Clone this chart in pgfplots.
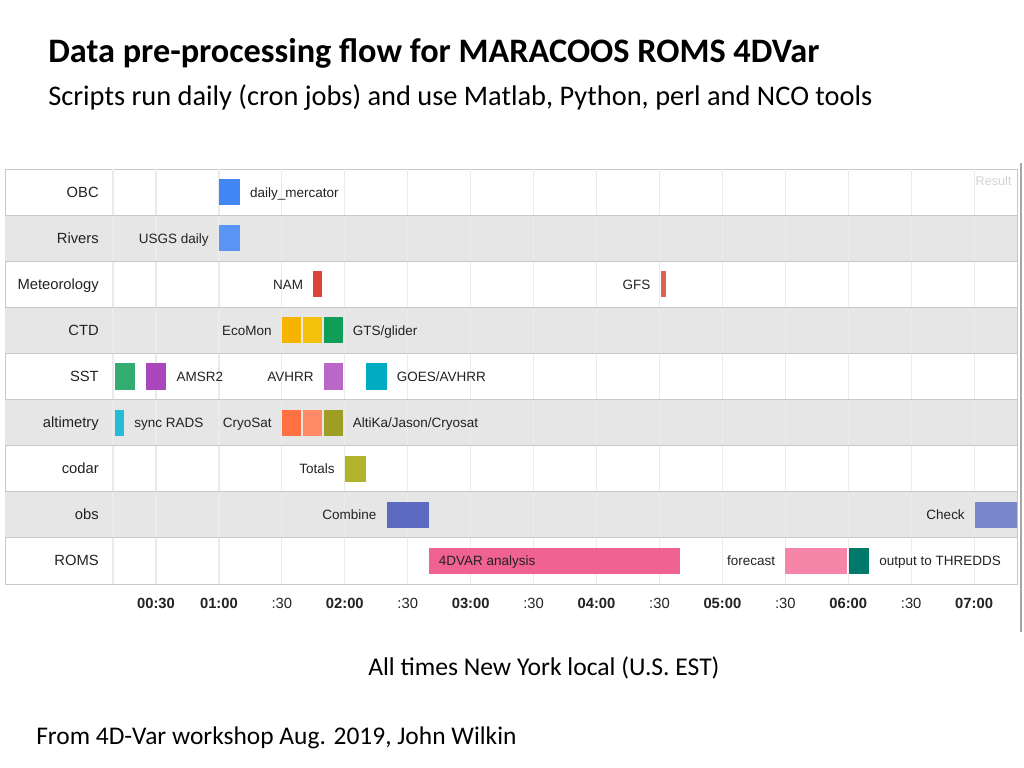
\documentclass[border=0pt]{standalone}
\usepackage{fontspec}
\setmainfont{Carlito}
\newfontfamily\arial{Liberation Sans}
\usepackage{pgfplots}
\pgfplotsset{compat=1.18}
\definecolor{band}{HTML}{E6E6E6}
\definecolor{gridc}{HTML}{EBEBEB}
\definecolor{sepc}{HTML}{C8C8C8}
\definecolor{txt}{HTML}{222222}
\definecolor{cOBC}{HTML}{4285F4}
\definecolor{cRiv}{HTML}{5A95F5}
\definecolor{cNAM}{HTML}{DB4437}
\definecolor{cGFS}{HTML}{E06055}
\definecolor{cCTDa}{HTML}{F4B400}
\definecolor{cCTDb}{HTML}{F4C20D}
\definecolor{cCTDc}{HTML}{0F9D58}
\definecolor{cSSTa}{HTML}{33AC71}
\definecolor{cSSTb}{HTML}{AB47BC}
\definecolor{cSSTc}{HTML}{BA68C8}
\definecolor{cSSTd}{HTML}{00ACC1}
\definecolor{cALTa}{HTML}{26BCD7}
\definecolor{cALTb}{HTML}{FF7043}
\definecolor{cALTc}{HTML}{FF8A65}
\definecolor{cALTd}{HTML}{9E9D24}
\definecolor{cCOD}{HTML}{AFB42B}
\definecolor{cOBSa}{HTML}{5C6BC0}
\definecolor{cOBSb}{HTML}{7986CB}
\definecolor{cRa}{HTML}{F06292}
\definecolor{cRb}{HTML}{F585A9}
\definecolor{cRc}{HTML}{00796B}
% bar: color, ytop, ybottom, start, end
\newcommand\gbar[5]{\addplot[fill=#1,draw=none,forget plot] coordinates {(#4,#2) (#5,#2) (#5,#3) (#4,#3)};}
\newcommand\rlab[3]{\node[anchor=#2,inner sep=0pt,text height=0.716em,text depth=0pt,text=txt,font=\arial\fontsize{10.5}{12}\selectfont] at (axis cs:0.047,#1) {#3};}
\newcommand\lab[4]{\node[anchor=#3,inner sep=0pt,text height=0.716em,text depth=0pt,text=txt,font=\arial\fontsize{9.6}{11}\selectfont] at (axis cs:#1,#2) {#4};}
\newcommand\vgrid[1]{\addplot[gridc,line width=0.8pt,forget plot] coordinates {(#1,0) (#1,9)};}
\newcommand\hsep[1]{\addplot[sepc,line width=0.6pt,forget plot] coordinates {(-0.7,#1) (7.341,#1)};}
\begin{document}
\begin{tikzpicture}
\useasboundingbox (0,0) rectangle (256mm,192mm);
\node[anchor=base west,inner sep=0pt,font=\bfseries\fontsize{24.4}{29}\selectfont] at (12mm,176.4mm) {Data pre-processing flow for MARACOOS ROMS 4DVar};
\node[anchor=base west,inner sep=0pt,font=\fontsize{20.2}{24}\selectfont] at (12mm,165.5mm) {Scripts run daily (cron jobs) and use Matlab, Python, perl and NCO tools};
\node[anchor=base west,inner sep=0pt,font=\fontsize{18.2}{22}\selectfont] at (92mm,23.1mm) {All times New York local (U.S. EST)};
\node[anchor=base west,inner sep=0pt,font=\fontsize{18.1}{22}\selectfont] at (9mm,5.75mm) {From 4D-Var workshop Aug. 2019, John Wilkin};
\draw[gray!70,line width=0.8pt] (255.25mm,151.25mm) -- (255.25mm,34mm);
\begin{axis}[
  at={(1.25mm,46mm)}, anchor=south west,
  width=253mm, height=103.75mm, scale only axis,
  xmin=-0.700, xmax=7.341, ymin=0, ymax=9, y dir=reverse,
  axis line style={draw=sepc},
  xtick={0.5,1,1.5,2,2.5,3,3.5,4,4.5,5,5.5,6,6.5,7},
  xticklabels={\textbf{00:30},\textbf{01:00},:30,\textbf{02:00},:30,\textbf{03:00},:30,\textbf{04:00},:30,\textbf{05:00},:30,\textbf{06:00},:30,\textbf{07:00}},
  xticklabel style={font=\arial\fontsize{10.5}{12}\selectfont, text=txt, anchor=base, yshift=-6mm},
  major tick length=0pt,
  ytick=\empty,
  clip=true,
]
% row bands
\addplot[fill=band,draw=none,forget plot] coordinates {(-0.7,1) (7.341,1) (7.341,2) (-0.7,2)};
\addplot[fill=band,draw=none,forget plot] coordinates {(-0.7,3) (7.341,3) (7.341,4) (-0.7,4)};
\addplot[fill=band,draw=none,forget plot] coordinates {(-0.7,5) (7.341,5) (7.341,6) (-0.7,6)};
\addplot[fill=band,draw=none,forget plot] coordinates {(-0.7,7) (7.341,7) (7.341,8) (-0.7,8)};
% grid
\vgrid{0.158}\vgrid{0.5}\vgrid{1}\vgrid{1.5}\vgrid{2}\vgrid{2.5}\vgrid{3}\vgrid{3.5}
\vgrid{4}\vgrid{4.5}\vgrid{5}\vgrid{5.5}\vgrid{6}\vgrid{6.5}\vgrid{7}
\hsep{1}\hsep{2}\hsep{3}\hsep{4}\hsep{5}\hsep{6}\hsep{7}\hsep{8}
% row 1 OBC
\gbar{cOBC}{0.217}{0.783}{1.000}{1.167}
% row 2 Rivers
\gbar{cRiv}{1.217}{1.783}{1.000}{1.167}
% row 3 Meteorology
\gbar{cNAM}{2.217}{2.783}{1.750}{1.817}
\gbar{cGFS}{2.217}{2.783}{4.510}{4.550}
% row 4 CTD
\gbar{cCTDa}{3.217}{3.783}{1.500}{1.650}
\gbar{cCTDb}{3.217}{3.783}{1.667}{1.817}
\gbar{cCTDc}{3.217}{3.783}{1.833}{1.983}
% row 5 SST
\gbar{cSSTa}{4.217}{4.783}{0.175}{0.333}
\gbar{cSSTb}{4.217}{4.783}{0.417}{0.583}
\gbar{cSSTc}{4.217}{4.783}{1.833}{1.986}
\gbar{cSSTd}{4.217}{4.783}{2.167}{2.333}
% row 6 altimetry
\gbar{cALTa}{5.217}{5.783}{0.175}{0.246}
\gbar{cALTb}{5.217}{5.783}{1.500}{1.650}
\gbar{cALTc}{5.217}{5.783}{1.667}{1.817}
\gbar{cALTd}{5.217}{5.783}{1.833}{1.983}
% row 7 codar
\gbar{cCOD}{6.217}{6.783}{2.000}{2.167}
% row 8 obs
\gbar{cOBSa}{7.217}{7.783}{2.333}{2.667}
\gbar{cOBSb}{7.217}{7.783}{7.007}{7.400}
% row 9 ROMS
\gbar{cRa}{8.217}{8.783}{2.667}{4.667}
\gbar{cRb}{8.217}{8.783}{5.500}{5.990}
\gbar{cRc}{8.217}{8.783}{6.008}{6.167}
% row labels
\rlab{0.5}{east}{OBC}
\rlab{1.5}{east}{Rivers}
\rlab{2.5}{east}{Meteorology}
\rlab{3.5}{east}{CTD}
\rlab{4.5}{east}{SST}
\rlab{5.5}{east}{altimetry}
\rlab{6.5}{east}{codar}
\rlab{7.5}{east}{obs}
\rlab{8.5}{east}{ROMS}
% bar labels
\lab{1.246}{0.5}{west}{daily\_mercator}
\lab{0.921}{1.5}{east}{USGS daily}
\lab{1.671}{2.5}{east}{NAM}
\lab{4.431}{2.5}{east}{GFS}
\lab{1.421}{3.5}{east}{EcoMon}
\lab{2.062}{3.5}{west}{GTS/glider}
\lab{0.662}{4.5}{west}{AMSR2}
\lab{1.754}{4.5}{east}{AVHRR}
\lab{2.412}{4.5}{west}{GOES/AVHRR}
\lab{0.325}{5.5}{west}{sync RADS}
\lab{1.421}{5.5}{east}{CryoSat}
\lab{2.062}{5.5}{west}{AltiKa/Jason/Cryosat}
\lab{1.921}{6.5}{east}{Totals}
\lab{2.254}{7.5}{east}{Combine}
\lab{6.928}{7.5}{east}{Check}
\lab{2.746}{8.5}{west}{4DVAR analysis}
\lab{5.421}{8.5}{east}{forecast}
\lab{6.246}{8.5}{west}{output to THREDDS}
\node[anchor=east,inner sep=0pt,text=gray!35,font=\arial\fontsize{9}{10}\selectfont] at (axis cs:7.30,0.254) {Result};
\end{axis}
\end{tikzpicture}
\end{document}
